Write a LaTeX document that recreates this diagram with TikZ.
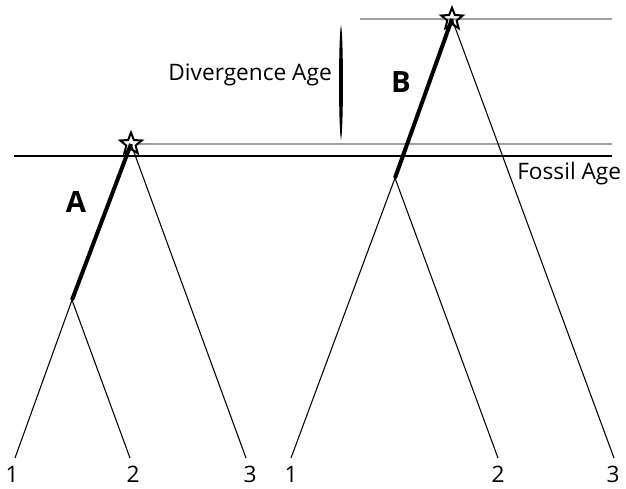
\documentclass[tikz,border=0pt]{standalone}
\usepackage{fontspec}
\setmainfont{Open Sans}
\usetikzlibrary{shapes.geometric}

\begin{document}
\begin{tikzpicture}[
  x=0.75pt, y=-0.75pt,
  branch/.style={line width=0.8pt},
  stem/.style={line width=3pt},
  agebar/.style={line width=1.5pt},
  guide/.style={draw=gray!75, line width=1.1pt},
  fossil/.style={star, star points=5, star point ratio=2.3, draw, line width=1.5pt, minimum size=17pt, inner sep=0pt},
  tip/.style={font=\fontsize{17}{20}\selectfont, inner sep=0pt},
  clade/.style={font=\fontsize{22}{26}\selectfont\bfseries, inner sep=0pt},
  lbl/.style={font=\fontsize{17}{20}\selectfont, inner sep=0pt}
]
  \useasboundingbox (0,0) rectangle (626,489);

  % age lines
  \draw[guide] (360,19) -- (612,19);
  \draw[guide] (136,144) -- (612,144);
  \draw[agebar] (14,156) -- (612,156);
  \node[lbl, anchor=west] (fossilage) at (517,174) {Fossil Age};

  % divergence bar
  \fill (341,25) .. controls (343.6,38) and (343.6,127) .. (341,140) .. controls (338.4,127) and (338.4,38) .. (341,25);
  \node[lbl, anchor=east] (divage) at (332,75) {Divergence Age};

  % tree A
  \node[fossil] (rootA) at (131,144) {};
  \coordinate (nA) at (72,300);
  \coordinate (a1) at (15,458);
  \coordinate (a2) at (130,458);
  \coordinate (a3) at (246,458);
  \node[tip] (la1) at (12,474) {1};
  \node[tip] (la2) at (133,474) {2};
  \node[tip] (la3) at (250,474) {3};
  \draw[stem] (rootA.center) -- (nA);
  \draw[branch] (nA) -- (a1);
  \draw[branch] (nA) -- (a2);
  \draw[branch] (rootA.center) -- (a3);
  \node[clade] (cladeA) at (76,202) {A};

  % tree B
  \node[fossil] (rootB) at (452,19) {};
  \coordinate (nB) at (395,178);
  \coordinate (b1) at (291,458);
  \coordinate (b2) at (498,458);
  \coordinate (b3) at (614,458);
  \node[tip] (lb1) at (291,474) {1};
  \node[tip] (lb2) at (498,474) {2};
  \node[tip] (lb3) at (613,474) {3};
  \draw[stem] (rootB.center) -- (nB);
  \draw[branch] (nB) -- (b1);
  \draw[branch] (nB) -- (b2);
  \draw[branch] (rootB.center) -- (b3);
  \node[clade] (cladeB) at (401,82) {B};
\end{tikzpicture}
\end{document}
